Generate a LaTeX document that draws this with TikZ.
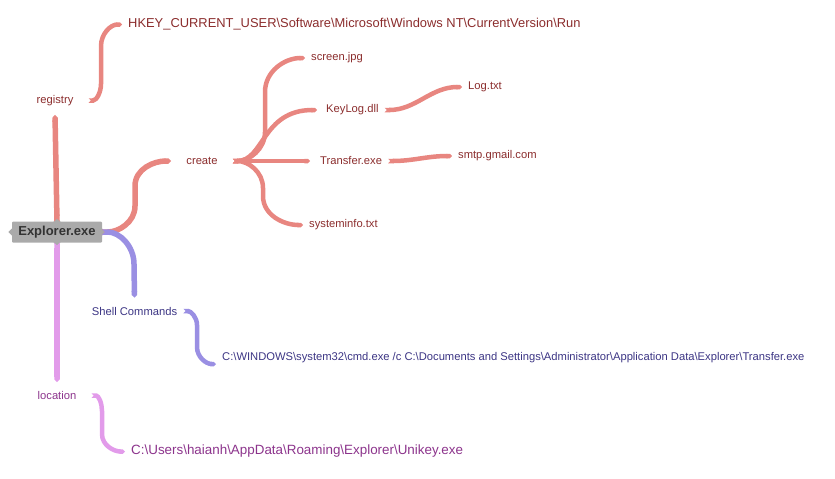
\documentclass[tikz,border=0pt]{standalone}
\usepackage{fontspec}
\setmainfont{Liberation Sans}
\usetikzlibrary{positioning, arrows.meta, calc}

\definecolor{redline}{RGB}{232,134,128}
\definecolor{redtext}{RGB}{139,45,45}
\definecolor{blueline}{RGB}{154,143,227}
\definecolor{bluetext}{RGB}{60,53,132}
\definecolor{pinkline}{RGB}{226,155,234}
\definecolor{pinktext}{RGB}{140,52,140}
\definecolor{boxgray}{RGB}{170,170,170}
\newcommand{\bksl}{\textbackslash}

\begin{document}
\begin{tikzpicture}[x=1pt, y=-1pt,
		topic/.style={font=\fontsize{11.2}{13}\selectfont, inner xsep=15pt, inner ysep=9pt},
		leaf/.style={font=\fontsize{11.2}{13}\selectfont, inner xsep=6pt, inner ysep=3pt, anchor=west},
		bigleaf/.style={leaf, font=\fontsize{13}{15}\selectfont},
		link/.style={line width=5.5pt, {Triangle Cap[reversed]}-{Triangle Cap[]}},
		sublink/.style={link, line width=4.5pt},
		root/.style={fill=boxgray, text=black!80, font=\fontsize{13}{15}\selectfont\bfseries, minimum width=90pt, minimum height=21pt, inner sep=0pt, rounded corners=1pt}]
		
		\useasboundingbox (0,0) rectangle (835,479);
		
		\node[root] (explorer) at (57,232) {Explorer.exe};
		\foreach \a in {north,south,east,west}
		\fill[boxgray] (explorer.\a) +(-3.5,0) -- +(0,3.5) -- +(3.5,0) -- +(0,-3.5) -- cycle;
		
		% main topics
		\node[topic, text=redtext] (registry) at (55,100.5) {registry};
		\node[topic, text=redtext] (create) at (202,161) {create};
		\node[topic, text=bluetext, inner xsep=6pt] (shell) at (134.5,311) {Shell Commands};
		\node[topic, text=pinktext] (location) at (57,395.5) {location};
		
		% leaves
		\node[bigleaf, text=redtext, font=\fontsize{12.9}{15}\selectfont] (hkey) at (122,24.5) {HKEY\_CURRENT\_USER\bksl Software\bksl Microsoft\bksl Windows NT\bksl CurrentVersion\bksl Run};
		\node[leaf, text=redtext] (screen) at (305,58) {screen.jpg};
		\node[leaf, text=redtext] (keylog) at (320,110) {KeyLog.dll};
		\node[leaf, text=redtext] (transfer) at (314,161) {Transfer.exe};
		\node[leaf, text=redtext] (sysinfo) at (303,225) {systeminfo.txt};
		\node[leaf, text=redtext] (logtxt) at (462,87) {Log.txt};
		\node[leaf, text=redtext] (smtp) at (452,156) {smtp.gmail.com};
		\node[leaf, text=bluetext] (cmd) at (216,358) {C:\bksl WINDOWS\bksl system32\bksl cmd.exe /c C:\bksl Documents and Settings\bksl Administrator\bksl Application Data\bksl Explorer\bksl Transfer.exe};
		\node[bigleaf, text=pinktext, font=\fontsize{13.4}{15}\selectfont] (users) at (125,451.5) {C:\bksl Users\bksl haianh\bksl AppData\bksl Roaming\bksl Explorer\bksl Unikey.exe};
		
		% root connectors
		\draw[link, redline] (explorer.north) -- (registry.south);
		\draw[link, redline] (explorer.east) to[out=0,in=-90] (135,206) -- (135,186) to[out=90,in=180] (create.west);
		\draw[link, blueline] (explorer.east) to[out=0,in=90] (134,264) -- (shell.north);
		\draw[link, pinkline] (explorer.south) -- (location.north);
		
		% sub connectors
		\draw[sublink, redline] (registry.east) to[out=0,in=-90] (101,84) -- (101,46) to[out=90,in=180] (hkey.west);
		\draw[sublink, redline] (create.east) to[out=0,in=-90] (265,132) -- (265,92) to[out=90,in=180] (screen.west);
		\draw[sublink, redline] (create.east) .. controls (264,161) and (262,110) .. ([xshift=-3pt]keylog.west);
		\draw[sublink, redline] (create.east) -- ([xshift=-4pt]transfer.west);
		\draw[sublink, redline] (create.east) to[out=0,in=90] (263,188) -- (263,196) to[out=-90,in=180] (sysinfo.west);
		\draw[sublink, redline] (keylog.east) to[out=0,in=180] (logtxt.west);
		\draw[sublink, redline] (transfer.east) to[out=0,in=180] (smtp.west);
		\draw[sublink, blueline] (shell.east) to[out=0,in=90] (197,325) -- (197,347) to[out=-90,in=180] ([yshift=-6pt]cmd.west);
		\draw[sublink, pinkline] (location.east) to[out=0,in=90] (102,411) -- (102,434) to[out=-90,in=180] (users.west);
	\end{tikzpicture}
\end{document}
